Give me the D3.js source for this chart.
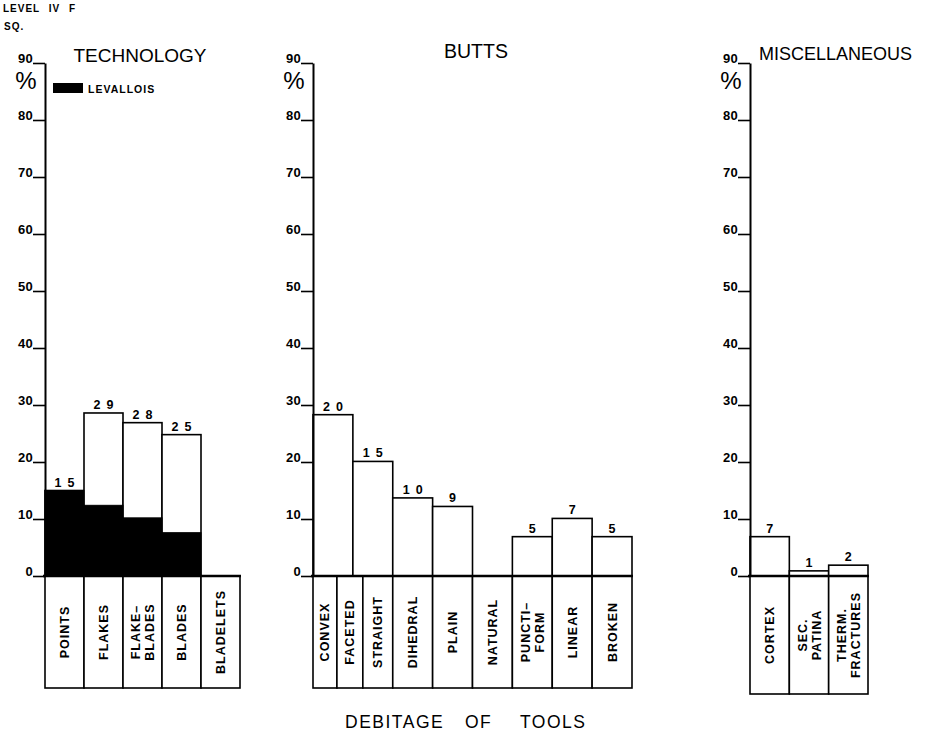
<!DOCTYPE html>
<html>
<head>
<meta charset="utf-8">
<script src="https://cdn.jsdelivr.net/npm/d3@7"></script>
<style>
  html, body { margin: 0; padding: 0; background: #fff; }
  svg { display: block; font-family: "Liberation Sans", Arial, Helvetica, sans-serif; }
</style>
</head>
<body>
<svg id="chart" width="930" height="738"></svg>
<script>
// ---------------- DATA ----------------
const yTicks = [0, 10, 20, 30, 40, 50, 60, 70, 80, 90];

// Technology panel
const techCategories = ["POINTS", "FLAKES", "FLAKE–|BLADES", "BLADES", "BLADELETS"];
const techTotal      = [15.0, 28.6, 26.9, 24.8, 0];
const techLevallois  = [15.0, 12.4, 10.2, 7.6, 0];
const techCounts     = ["15", "29", "28", "25", ""];

// Butts panel (8 bar slots, 9 label boxes)
const buttsCategories = ["CONVEX", "FACETED", "STRAIGHT", "DIHEDRAL", "PLAIN", "NATURAL", "PUNCTI–|FORM", "LINEAR", "BROKEN"];
const buttsValues     = [28.3, 20.1, 13.7, 12.2, 0, 6.9, 10.1, 6.9];
const buttsCounts     = ["20", "15", "10", "9", "", "5", "7", "5"];

// Miscellaneous panel
const miscCategories = ["CORTEX", "SEC.|PATINA", "THERM.|FRACTURES"];
const miscValues     = [6.9, 0.9, 1.9];
const miscCounts     = ["7", "1", "2"];

// ---------------- LAYOUT ----------------
const svg = d3.select("#chart");
const y = d3.scaleLinear().domain([0, 90]).range([576, 63]);

function panel(cfg) {
  const nSlots = cfg.values.length;
  const x = d3.scaleLinear().domain([0, nSlots]).range([cfg.left, cfg.right]);
  const g = svg.append("g");

  g.selectAll("rect.bar").data(cfg.values).join("rect")
    .attr("class", "bar")
    .attr("x", (d, i) => x(i))
    .attr("width", (d, i) => x(i + 1) - x(i))
    .attr("y", d => y(d))
    .attr("height", d => y(0) - y(d))
    .attr("fill", "#fff")
    .attr("stroke", "#000")
    .attr("stroke-width", 1.6)
    .style("display", d => d > 0 ? null : "none");

  if (cfg.sub) {
    g.selectAll("rect.sub").data(cfg.sub).join("rect")
      .attr("class", "sub")
      .attr("x", (d, i) => x(i))
      .attr("width", (d, i) => x(i + 1) - x(i))
      .attr("y", d => y(d))
      .attr("height", d => y(0) - y(d))
      .attr("fill", "#000")
      .attr("stroke", "#000")
      .attr("stroke-width", 1)
      .style("display", d => d > 0 ? null : "none");
  }

  g.selectAll("text.cnt").data(cfg.counts).join("text")
    .attr("class", "cnt")
    .attr("x", (d, i) => (x(i) + x(i + 1)) / 2 + (d.length > 1 ? 3 : 0))
    .attr("y", (d, i) => y(cfg.values[i]) - 4)
    .attr("text-anchor", "middle")
    .attr("font-size", 12.5)
    .attr("font-weight", "bold")
    .attr("letter-spacing", d => d.length > 1 ? 6 : 0)
    .text(d => d);

  const edges = cfg.edges || d3.range(cfg.categories.length + 1);
  const boxes = cfg.categories.map((c, i) => ({ c, x0: x(edges[i]), x1: x(edges[i + 1]) }));
  g.selectAll("rect.box").data(boxes).join("rect")
    .attr("class", "box")
    .attr("x", d => d.x0)
    .attr("width", d => d.x1 - d.x0)
    .attr("y", y(0))
    .attr("height", cfg.boxBottom - y(0))
    .attr("fill", "#fff")
    .attr("stroke", "#000")
    .attr("stroke-width", 1.6);

  const cy = (y(0) + cfg.boxBottom) / 2;
  const lbl = g.selectAll("text.cat").data(boxes).join("text")
    .attr("class", "cat")
    .attr("transform", d => `translate(${(d.x0 + d.x1) / 2},${cy}) rotate(-90)`)
    .attr("text-anchor", "middle")
    .attr("font-size", 12.5)
    .attr("font-weight", "bold")
    .attr("letter-spacing", 1);
  lbl.each(function(d) {
    const lines = d.c.split("|");
    const t = d3.select(this);
    lines.forEach((ln, k) => {
      t.append("tspan")
        .attr("x", 0)
        .attr("y", (k - (lines.length - 1) / 2) * 14)
        .attr("dy", "0.36em")
        .text(ln);
    });
  });

  const ax = g.append("g").attr("transform", `translate(${cfg.left},0)`)
    .call(d3.axisLeft(y).tickValues(yTicks).tickSize(12).tickSizeOuter(0).tickFormat(d3.format("d")));
  ax.attr("font-size", 13).attr("font-family", "Liberation Sans, Arial, sans-serif");
  ax.select(".domain").attr("stroke", "#000").attr("stroke-width", 2);
  ax.selectAll(".tick line").attr("stroke", "#000").attr("stroke-width", 1.6);
  ax.selectAll(".tick text")
    .attr("x", -12).attr("dy", -1)
    .attr("font-size", 13).attr("font-weight", "bold")
    .attr("letter-spacing", 0.3)
    .attr("fill", "#000");

  g.append("line")
    .attr("x1", cfg.left - 2).attr("x2", cfg.right + 1)
    .attr("y1", y(0)).attr("y2", y(0))
    .attr("stroke", "#000").attr("stroke-width", 2.6);

  g.append("text")
    .attr("x", cfg.left - 19).attr("y", 89)
    .attr("text-anchor", "middle")
    .attr("font-size", 24)
    .text("%");

  g.append("text")
    .attr("x", cfg.titleX).attr("y", cfg.titleY)
    .attr("text-anchor", cfg.titleAnchor)
    .attr("font-size", cfg.titleSize)
    .text(cfg.title);
}

panel({
  left: 45, right: 240, boxBottom: 688,
  categories: techCategories, values: techTotal, sub: techLevallois, counts: techCounts,
  title: "TECHNOLOGY", titleX: 140, titleY: 62, titleAnchor: "middle", titleSize: 19
});

panel({
  left: 313, right: 632, boxBottom: 688,
  categories: buttsCategories, values: buttsValues, counts: buttsCounts,
  edges: [0, 0.6, 1.25, 2, 3, 4, 5, 6, 7, 8],
  title: "BUTTS", titleX: 476, titleY: 58, titleAnchor: "middle", titleSize: 19.5
});

panel({
  left: 750, right: 868, boxBottom: 694,
  categories: miscCategories, values: miscValues, counts: miscCounts,
  title: "MISCELLANEOUS", titleX: 759, titleY: 60, titleAnchor: "start", titleSize: 18
});

svg.append("rect").attr("x", 53).attr("y", 83).attr("width", 30).attr("height", 10).attr("fill", "#000");
svg.append("text").attr("x", 88).attr("y", 93)
  .attr("font-size", 10.5).attr("font-weight", "bold").attr("letter-spacing", 1)
  .text("LEVALLOIS");

svg.append("text").attr("x", 3).attr("y", 12)
  .attr("font-size", 10).attr("font-weight", "bold").attr("letter-spacing", 1)
  .attr("word-spacing", 5)
  .text("LEVEL IV F");
svg.append("text").attr("x", 4).attr("y", 30)
  .attr("font-size", 10).attr("font-weight", "bold").attr("letter-spacing", 1)
  .text("SQ.");

const footer = svg.append("text").attr("y", 728).attr("font-size", 17.5).attr("letter-spacing", 1.5);
footer.append("tspan").attr("x", 345).text("DEBITAGE");
footer.append("tspan").attr("x", 465).text("OF");
footer.append("tspan").attr("x", 520).text("TOOLS");
</script>
</body>
</html>
